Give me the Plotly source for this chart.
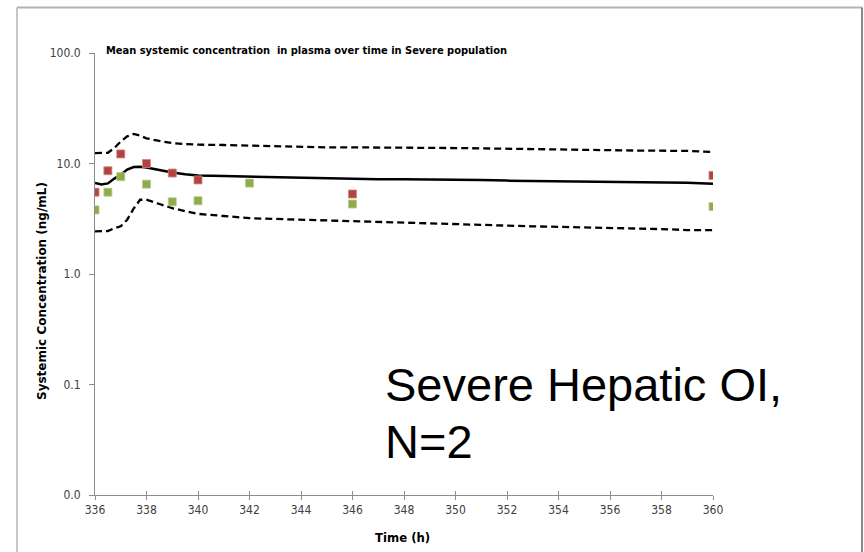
import plotly.graph_objects as go

# ---- data ----
time_obs = [336, 336.5, 337, 338, 339, 340, 342, 346, 360]
subj1 = [5.5, 8.6, 12.2, 10.0, 8.2, 7.1, None, 5.3, 7.8]
subj2 = [3.8, 5.5, 7.6, 6.5, 4.5, 4.6, 6.65, 4.3, 4.07]

time_sim = [336, 336.25, 336.5, 336.75, 337, 337.25, 337.5, 337.75, 338, 338.5, 339, 339.5, 340,
            341, 342, 343, 344, 345, 346, 347, 348, 349, 350, 351, 352, 353, 354, 355, 356, 357, 358, 359, 360]
mean_conc = [6.65, 6.45, 6.6, 7.3, 7.9, 8.8, 9.3, 9.35, 9.2, 8.7, 8.3, 8.0, 7.8,
             7.7, 7.6, 7.5, 7.4, 7.4, 7.3, 7.2, 7.2, 7.2, 7.1, 7.1, 7.0, 6.95, 6.9, 6.9, 6.9, 6.8, 6.7, 6.7, 6.55]
p95_conc = [12.4, 12.4, 12.5, 13.8, 15.8, 17.6, 18.5, 17.9, 16.9, 16.0, 15.3, 15.0, 14.8,
            14.7, 14.5, 14.5, 14.3, 14.0, 14.0, 14.0, 13.9, 13.8, 13.8, 13.7, 13.5, 13.5, 13.4, 13.4, 13.2, 13.1, 13.1, 13.0, 12.7]
p5_conc = [2.43, 2.43, 2.45, 2.6, 2.7, 3.1, 3.9, 4.7, 4.7, 4.3, 3.95, 3.7, 3.5,
           3.35, 3.2, 3.15, 3.1, 3.05, 3.0, 2.95, 2.9, 2.85, 2.8, 2.75, 2.72, 2.7, 2.67, 2.65, 2.6, 2.58, 2.55, 2.5, 2.5]

x_ticks = list(range(336, 361, 2))
y_tickvals = [0.01, 0.1, 1, 10, 100]
y_ticktext = ["0.0", "0.1", "1.0", "10.0", "100.0"]

title_text = "Mean systemic concentration  in plasma over time in Severe population"
y_title = "Systemic Concentration (ng/mL)"
x_title = "Time (h)"
note_line1 = "Severe Hepatic OI,"
note_line2 = "N=2"

narrow = "Liberation Sans Narrow, Arial Narrow, DejaVu Sans Condensed, sans-serif"

fig = go.Figure()
fig.add_trace(go.Scatter(x=time_sim, y=p95_conc, mode="lines",
                         line=dict(color="black", width=2.3, dash="7px,4px"), showlegend=False))
fig.add_trace(go.Scatter(x=time_sim, y=p5_conc, mode="lines",
                         line=dict(color="black", width=2.3, dash="7px,4px"), showlegend=False))
fig.add_trace(go.Scatter(x=time_sim, y=mean_conc, mode="lines",
                         line=dict(color="black", width=2.5), showlegend=False))
fig.add_trace(go.Scatter(x=time_obs, y=subj1, mode="markers",
                         marker=dict(symbol="square", size=8, color="#B3433F",
                                     line=dict(color="#D08582", width=0.8)), showlegend=False))
fig.add_trace(go.Scatter(x=time_obs, y=subj2, mode="markers",
                         marker=dict(symbol="square", size=8, color="#8EAC4C",
                                     line=dict(color="#B5CB88", width=0.8)), showlegend=False))
# overlay axis for the inner half of crossing x ticks
fig.add_trace(go.Scatter(x=[336, 360], y=[None, None], xaxis="x2", yaxis="y", showlegend=False,
                         hoverinfo="skip"))

fig.update_layout(
    width=864, height=552,
    margin=dict(l=95, r=151, t=53, b=57),
    paper_bgcolor="white", plot_bgcolor="white",
    xaxis=dict(range=[336, 360], tickvals=x_ticks, ticks="outside", ticklen=4,
               tickcolor="#8C8C8C", showline=True, linecolor="#8C8C8C", linewidth=1,
               showgrid=False, zeroline=False, automargin=False,
               tickfont=dict(family=narrow, size=12, color="#404040")),
    xaxis2=dict(range=[336, 360], tickvals=x_ticks, ticks="inside", ticklen=4,
                tickcolor="#8C8C8C", overlaying="x", anchor="y", side="bottom",
                showticklabels=False, showgrid=False, zeroline=False, showline=False),
    yaxis=dict(type="log", range=[-2, 2], tickvals=y_tickvals, ticktext=y_ticktext,
               ticks="outside", ticklen=5, tickcolor="#8C8C8C",
               showline=True, linecolor="#8C8C8C", linewidth=1, automargin=False,
               showgrid=False, zeroline=False, ticklabelstandoff=6,
               tickfont=dict(family=narrow, size=12, color="#404040")),
    annotations=[
        dict(text="<b>" + title_text + "</b>", xref="paper", yref="paper", x=0.0145, y=1.005,
             xanchor="left", yanchor="middle", showarrow=False,
             font=dict(family=narrow, size=11, color="black")),
        dict(text="<b>" + y_title + "</b>", xref="paper", yref="paper",
             x=(42 - 95) / 618, y=(495 - 291) / 442, textangle=-90,
             xanchor="center", yanchor="middle", showarrow=False,
             font=dict(family="DejaVu Sans, sans-serif", size=12, color="black")),
        dict(text="<b>" + x_title + "</b>", xref="paper", yref="paper",
             x=(402 - 95) / 618, y=(495 - 537) / 442,
             xanchor="center", yanchor="middle", showarrow=False,
             font=dict(family=narrow, size=13, color="black")),
        dict(text=note_line1, xref="paper", yref="paper", x=(383 - 95) / 618, y=(495 - 384) / 442,
             xanchor="left", yanchor="middle", showarrow=False,
             font=dict(family="Liberation Sans, Arial, sans-serif", size=47, color="black")),
        dict(text=note_line2, xref="paper", yref="paper", x=(383 - 95) / 618, y=(495 - 441) / 442,
             xanchor="left", yanchor="middle", showarrow=False,
             font=dict(family="Liberation Sans, Arial, sans-serif", size=47, color="black")),
    ],
    shapes=[
        dict(type="line", xref="paper", yref="paper", x0=(17 - 95) / 618, x1=(862 - 95) / 618,
             y0=(495 - 7.5) / 442, y1=(495 - 7.5) / 442, line=dict(color="#B4B4B4", width=2)),
        dict(type="line", xref="paper", yref="paper", x0=(17 - 95) / 618, x1=(17 - 95) / 618,
             y0=(495 - 7.5) / 442, y1=(495 - 560) / 442, line=dict(color="#B4B4B4", width=1.5)),
        dict(type="line", xref="paper", yref="paper", x0=(862 - 95) / 618, x1=(862 - 95) / 618,
             y0=(495 - 7.5) / 442, y1=(495 - 560) / 442, line=dict(color="#8A8A8A", width=2)),
    ],
)

fig.write_html("out.html")
